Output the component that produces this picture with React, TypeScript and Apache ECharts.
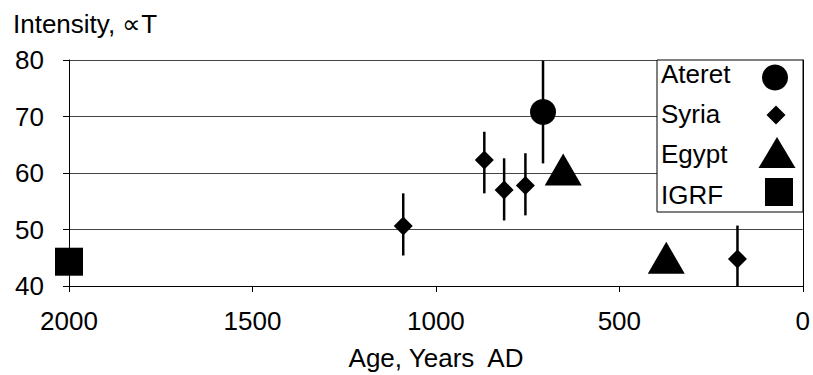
import React, { useEffect, useRef } from "react";
import * as echarts from "echarts";

const xTicks = [0, 500, 1000, 1500, 2000];
const yTicks = [40, 50, 60, 70, 80];

const ateretAge = [708];
const ateretVal = [70.8];
const ateretLow = [61.7];
const ateretHigh = [79.9];

const syriaAge = [1089, 868, 814, 756, 178];
const syriaVal = [50.6, 62.3, 57.0, 57.8, 44.8];
const syriaLow = [45.4, 56.4, 51.6, 52.5, 40.0];
const syriaHigh = [56.4, 67.3, 62.6, 63.5, 50.7];

const egyptAge = [653, 372];
const egyptVal = [60.6, 45.0];

const igrfAge = [2000];
const igrfVal = [44.3];

const legendNames = ["Ateret", "Syria", "Egypt", "IGRF"];

const FONT = "'Liberation Sans', Arial, Helvetica, sans-serif";
const FS = 26;

export default function App() {
  const ref = useRef<HTMLDivElement>(null);
  useEffect(() => {
    if (!ref.current) return;
    document.body.style.margin = "0";
    const chart = echarts.init(ref.current, undefined, { renderer: "svg" });
    const errData: number[][] = [];
    ateretAge.forEach((a, i) => errData.push([a, ateretLow[i], ateretHigh[i]]));
    syriaAge.forEach((a, i) => errData.push([a, syriaLow[i], syriaHigh[i]]));

    const legendY = [74, 114, 154, 195];
    const legendGraphics: any[] = [
      {
        type: "rect",
        shape: { x: 657, y: 60, width: 146, height: 152 },
        style: { fill: "#fff", stroke: "#000", lineWidth: 1 },
        z: 100,
      },
      ...legendNames.map((n, i) => ({
        type: "text",
        x: 661,
        y: legendY[i],
        z: 101,
        style: {
          text: n,
          fontSize: FS,
          fontFamily: FONT,
          fill: "#000",
          align: "left",
          verticalAlign: "middle",
        },
      })),
      { type: "circle", shape: { cx: 775, cy: 77.5, r: 13 }, style: { fill: "#000" }, z: 101 },
      {
        type: "polygon",
        shape: { points: [[776, 105.5], [785.5, 115], [776, 124.5], [766.5, 115]] },
        style: { fill: "#000" },
        z: 101,
      },
      {
        type: "polygon",
        shape: { points: [[777, 137], [795.5, 168], [758.5, 168]] },
        style: { fill: "#000" },
        z: 101,
      },
      { type: "rect", shape: { x: 765, y: 178, width: 28, height: 28 }, style: { fill: "#000" }, z: 101 },
      {
        type: "text",
        x: 13,
        y: 24,
        style: {
          text: "Intensity, \u221DT",
          fontSize: FS,
          fontFamily: FONT,
          fill: "#000",
          align: "left",
          verticalAlign: "middle",
        },
      },
      {
        type: "text",
        x: 436,
        y: 358,
        style: {
          text: "Age, Years  AD",
          fontSize: FS,
          fontFamily: FONT,
          fill: "#000",
          align: "center",
          verticalAlign: "middle",
        },
      },
    ];

    chart.setOption({
      animation: false,
      backgroundColor: "#fff",
      grid: { left: 69, right: 10, top: 60, bottom: 89, containLabel: false },
      xAxis: {
        type: "value",
        inverse: true,
        min: xTicks[0],
        max: xTicks[xTicks.length - 1],
        interval: 500,
        axisLine: { show: true, onZero: false, lineStyle: { color: "#000", width: 1 } },
        axisTick: { show: true, length: 6, lineStyle: { color: "#000" } },
        splitLine: { show: false },
        axisLabel: {
          margin: 22,
          fontSize: FS,
          fontFamily: FONT,
          color: "#000",
          formatter: (v: number) => String(v),
        },
      },
      yAxis: [
        {
          type: "value",
          min: yTicks[0],
          max: yTicks[yTicks.length - 1],
          interval: 10,
          axisLine: { show: true, onZero: false, lineStyle: { color: "#000", width: 1 } },
          axisTick: { show: true, length: 6, lineStyle: { color: "#000" } },
          splitLine: { show: true, lineStyle: { color: "#444", width: 1 } },
          axisLabel: {
            margin: 25,
            fontSize: FS,
            fontFamily: FONT,
            color: "#000",
            formatter: (v: number) => String(v),
          },
        },
        {
          type: "value",
          position: "right",
          min: yTicks[0],
          max: yTicks[yTicks.length - 1],
          interval: 10,
          axisLine: { show: true, onZero: false, lineStyle: { color: "#000", width: 1 } },
          axisTick: { show: false },
          axisLabel: { show: false },
          splitLine: { show: false },
        },
      ],
      series: [
        {
          type: "custom",
          name: "errors",
          data: errData,
          encode: { x: 0, y: [1, 2] },
          z: 1,
          renderItem: (params: any, api: any) => {
            const p1 = api.coord([api.value(0), api.value(1)]);
            const p2 = api.coord([api.value(0), api.value(2)]);
            return {
              type: "line",
              shape: { x1: p1[0], y1: p1[1], x2: p2[0], y2: p2[1] },
              style: { stroke: "#000", lineWidth: 2.5 },
            };
          },
        },
        {
          type: "scatter",
          name: "Ateret",
          symbol: "circle",
          symbolSize: 26,
          itemStyle: { color: "#000", opacity: 1 },
          data: ateretAge.map((a, i) => [a, ateretVal[i]]),
          z: 3,
        },
        {
          type: "scatter",
          name: "Syria",
          symbol: "diamond",
          symbolSize: [19, 19],
          itemStyle: { color: "#000", opacity: 1 },
          data: syriaAge.map((a, i) => [a, syriaVal[i]]),
          z: 3,
        },
        {
          type: "scatter",
          name: "Egypt",
          symbol: "triangle",
          symbolSize: [37, 32],
          itemStyle: { color: "#000", opacity: 1 },
          data: egyptAge.map((a, i) => [a, egyptVal[i]]),
          z: 3,
        },
        {
          type: "scatter",
          name: "IGRF",
          symbol: "rect",
          symbolSize: [28, 28],
          itemStyle: { color: "#000", opacity: 1 },
          data: igrfAge.map((a, i) => [a, igrfVal[i]]),
          z: 3,
        },
      ],
      graphic: legendGraphics,
    });
    return () => chart.dispose();
  }, []);
  return <div ref={ref} style={{ width: 813, height: 375 }} />;
}
